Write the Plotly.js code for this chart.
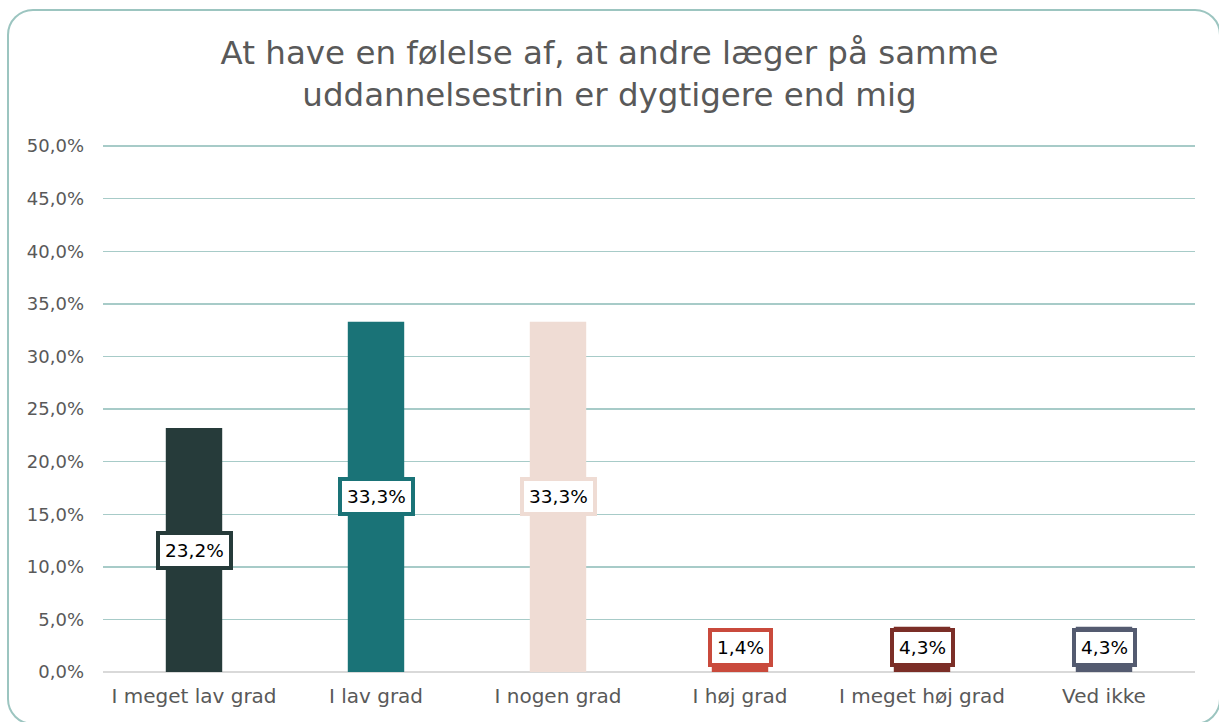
<!DOCTYPE html>
<html><head><meta charset="utf-8">
<script src="https://cdn.plot.ly/plotly-3.0.1.min.js"></script>
<style>
html,body{margin:0;padding:0;background:#fff;overflow:hidden;}
#frame{position:absolute;left:7px;top:9px;width:1214px;height:716px;border:2px solid #9cc5c0;border-radius:26px;box-sizing:border-box;}
#chart{position:absolute;left:0;top:0;width:1219px;height:722px;}
</style></head>
<body>
<div id="frame"></div>
<div id="chart"></div>
<script>
const categories = ["I meget lav grad","I lav grad","I nogen grad","I høj grad","I meget høj grad","Ved ikke"];
const values = [23.2, 33.3, 33.3, 1.4, 4.3, 4.3];
const colors = ["#263b3a","#1a7377","#efdcd4","#c94a3c","#7b2e27","#545b70"];
const tickVals = [0,5,10,15,20,25,30,35,40,45,50];
const tickText = tickVals.map(v => v.toFixed(1).replace('.', ',') + '%');
const fmt = v => v.toFixed(1).replace('.', ',') + '%';

const font = "Tahoma, 'DejaVu Sans', sans-serif";
const annotations = values.map((v,i) => ({
  x: categories[i], y: Math.max(v/2, 2.3), xref:'x', yref:'y',
  text: fmt(v), showarrow:false,
  font:{family:font, size:18.5, color:'#000'},
  bgcolor:'#fff', bordercolor: colors[i], borderwidth:4, borderpad:5
}));

Plotly.newPlot('chart', [{
  type:'bar', x:categories, y:values,
  marker:{color:colors}, hoverinfo:'none'
}], {
  width:1219, height:722,
  paper_bgcolor:'rgba(0,0,0,0)', plot_bgcolor:'rgba(0,0,0,0)',
  margin:{l:103, r:24, t:143, b:50},
  bargap:0.69,
  title:{text:'At have en følelse af, at andre læger på samme<br>uddannelsestrin er dygtigere end mig',
    font:{family:font, size:32.5, color:'#595959'}, x:0.5, xanchor:'center', y:0.912, yanchor:'top'},
  xaxis:{tickfont:{family:font, size:20, color:'#595959'}, showline:false, ticks:'', showgrid:false, ticklabelstandoff:10},
  yaxis:{range:[0,50.3], tickvals:tickVals, ticktext:tickText,
    tickfont:{family:font, size:18, color:'#595959'},
    gridcolor:'#a7cbc8', gridwidth:1.5, zeroline:true, zerolinecolor:'#d9d9d9', zerolinewidth:2,
    ticks:'', ticklabelstandoff:18},
  annotations:annotations,
  showlegend:false
}, {staticPlot:true});
</script>
</body></html>
